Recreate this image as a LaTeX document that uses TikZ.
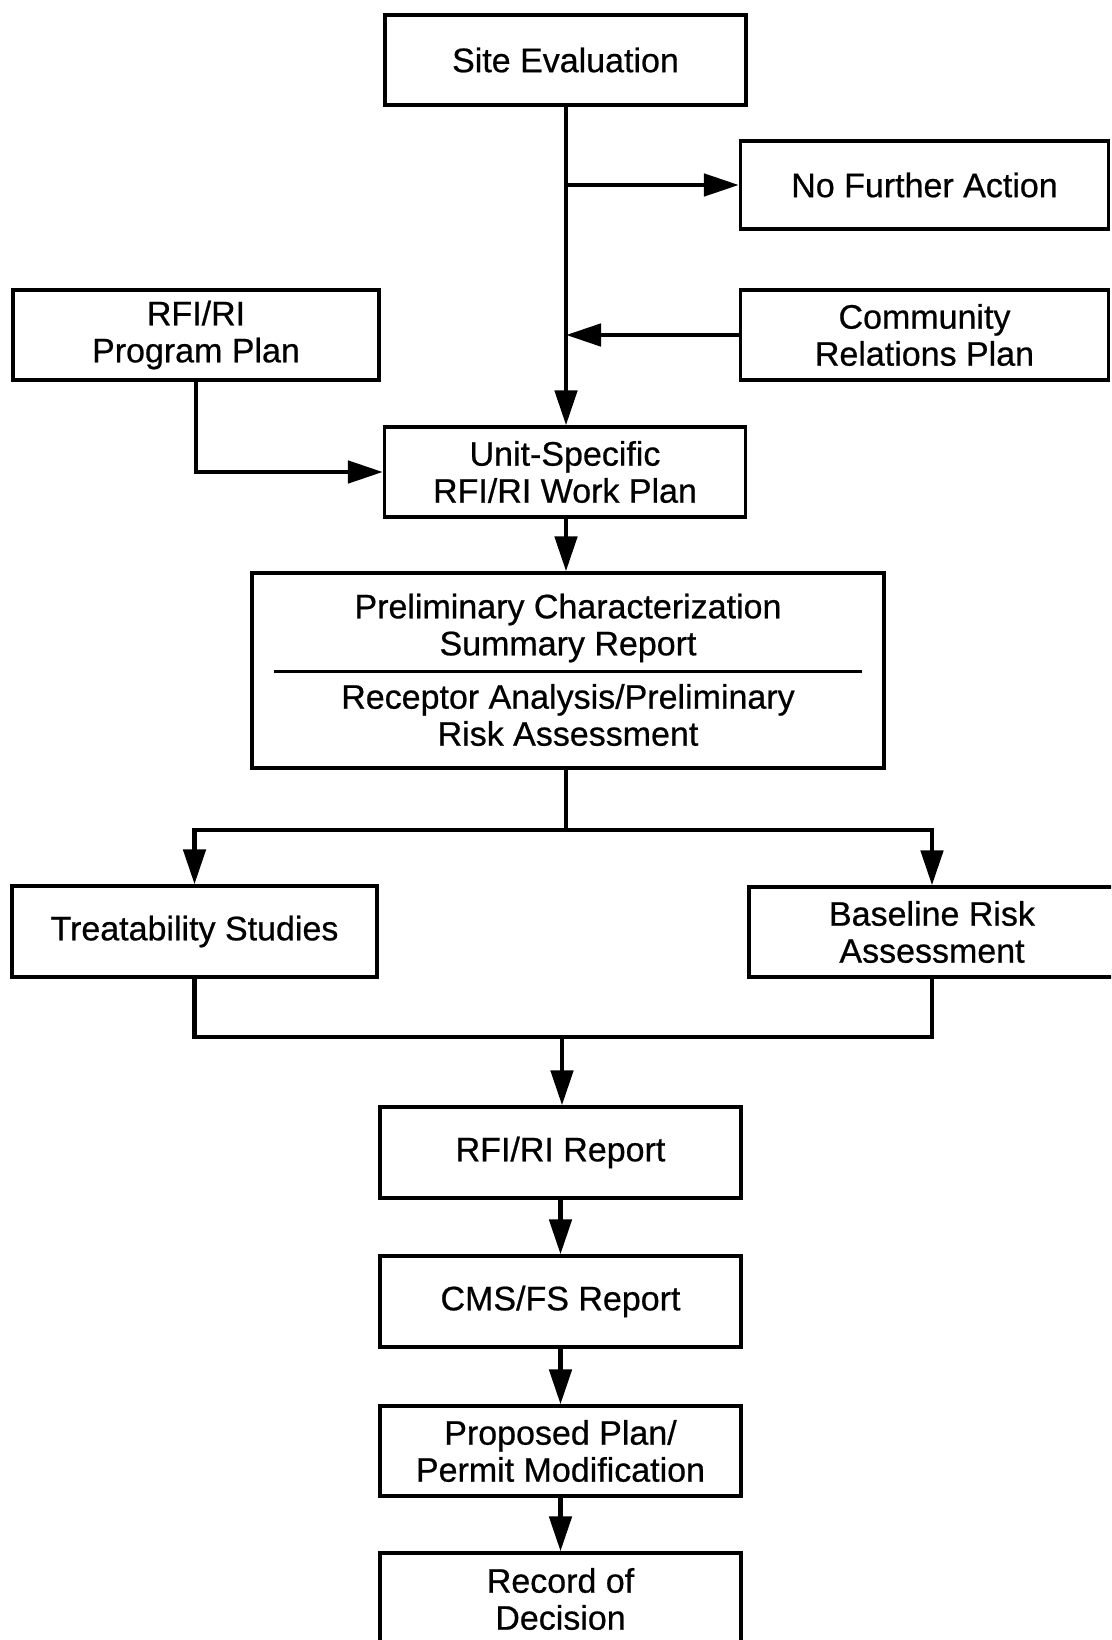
\documentclass[tikz,border=0pt]{standalone}
\usepackage{fontspec}
\setmainfont{Liberation Sans}
\newfontfamily\diafont{Liberation Sans}[FakeBold=0.6]
\usetikzlibrary{arrows.meta}
\begin{document}
\begin{tikzpicture}[x=1pt,y=-1pt,
  box/.style={draw, line width=3.2pt, align=center, inner sep=0pt,
    font=\diafont\fontsize{34}{37}\selectfont},
  txt/.style={align=center, inner sep=0pt, font=\diafont\fontsize{34}{37}\selectfont},
  conn/.style={line width=4.8pt},
  arr/.style={conn, -{Triangle[length=35pt,width=22pt]}}]
\useasboundingbox (0,0) rectangle (1111,1640);
\clip (0,0) rectangle (1111,1640);
\fill[white] (0,0) rectangle (1111,1640);

% boxes
\node[box, minimum width=361, minimum height=90] (site) at (565.5,60) {Site Evaluation};
\node[box, minimum width=368, minimum height=88] (nfa) at (924.5,185) {No Further Action};
\node[box, minimum width=366, minimum height=90] (prog) at (196,335) {RFI/RI\\Program Plan};
\node[box, minimum width=368, minimum height=90] (comm) at (924.5,335) {Community\\Relations Plan};
\node[box, minimum width=361, minimum height=90] (unit) at (565,472) {Unit-Specific\\RFI/RI Work Plan};
\node[box, minimum width=632, minimum height=195] (prelim) at (568,670.5) {};
\node[txt] (prelimA) at (568,628) {Preliminary Characterization\\Summary Report};
\node[txt] (prelimB) at (568,715) {Receptor Analysis/Preliminary\\Risk Assessment};
\coordinate (divL) at (274,671);
\coordinate (divR) at (862,671);
\draw[line width=3pt] (divL) -- (divR);
\node[box, minimum width=365, minimum height=91] (treat) at (194.5,931.5) {Treatability Studies};
\node[box, minimum width=366, minimum height=90] (base) at (932,932) {Baseline Risk\\Assessment};
\node[box, minimum width=361, minimum height=91] (report) at (560.5,1152.5) {RFI/RI Report};
\node[box, minimum width=361, minimum height=91] (cms) at (560.5,1301.5) {CMS/FS Report};
\node[box, minimum width=361, minimum height=90] (prop) at (560.5,1451) {Proposed Plan/\\Permit Modification};
\node[box, minimum width=361, minimum height=92] (rod) at (560.5,1599) {Record of\\Decision};

% connectors
\coordinate (trunk) at (566,105);
\coordinate (b1) at (566,185);
\draw[arr] (site.south -| trunk) -- (unit.north -| trunk);
\draw[arr] (b1) -- (nfa.west);
\draw[arr] (comm.west) -- (comm.west -| trunk);
\draw[arr] (prog.south) |- (unit.west);
\draw[arr] (unit.south -| trunk) -- (prelim.north -| trunk);

\coordinate (split) at (566,830);
\draw[conn] (prelim.south -| split) -- (split);
\draw[arr] (split) -| (treat.north);
\draw[arr] (split) -| (base.north);

\coordinate (merge) at (562,1037);
\draw[conn] (treat.south) |- (merge) -| (base.south);
\draw[arr] (merge) -- (report.north -| merge);
\draw[arr] (report.south) -- (cms.north);
\draw[arr] (cms.south) -- (prop.north);
\draw[arr] (prop.south) -- (rod.north);
\end{tikzpicture}
\end{document}
